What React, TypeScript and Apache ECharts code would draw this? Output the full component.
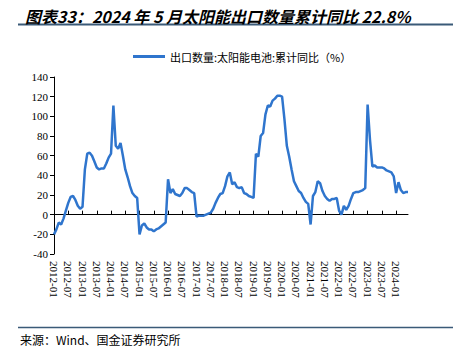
import React, { useEffect, useRef } from "react";
import * as echarts from "echarts";

const titleText = "图表33：2024 年 5 月太阳能出口数量累计同比 22.8%";
const sourceText = "来源：Wind、国金证券研究所";
const seriesName = "出口数量:太阳能电池:累计同比（%）";

const startYear = 2012;
const pointCount = 150;
const categories: string[] = [];
for (let i = 0; i < pointCount; i++) {
  const y = startYear + Math.floor(i / 12);
  const m = (i % 12) + 1;
  categories.push(`${y}-${m < 10 ? "0" + m : m}`);
}

const values: number[] = [
  -20, -15, -8, -10, -4, 4, 12, 18, 19, 15, 9, 6,
  8, 46, 62, 63, 60, 54, 48, 46, 47, 47, 52, 58,
  62, 111, 70, 67, 73, 60, 46, 38, 29, 22, 19, 17,
  -20, -11, -9, -13, -15, -15, -17, -15, -14, -12, -10, -8,
  36, 22, 26, 21, 20, 19, 22, 27, 27, 25, 23, 22,
  -2, -1, -1, -1, 0, 1, 2, 6, 12, 17, 21, 22,
  29, 39, 43, 31, 33, 28, 27, 28, 22, 21, 19, 18,
  17, 62, 59, 80, 83, 102, 111, 110, 116, 118, 121, 121,
  120, 97, 70, 59, 46, 34, 29, 24, 22, 17, 13, 11,
  -10, 19, 23, 34, 32, 24, 19, 16, 14, 16, 16, 17,
  4, 0, 9, 5, 9, 16, 22, 23, 23, 24, 25, 27,
  112, 76, 49, 50, 48, 48, 48, 47, 45, 44, 43, 39,
  22, 33, 25, 22, 23, 23,
];

const yMin = -40;
const yMax = 140;
const yStep = 20;

export default function App() {
  const ref = useRef<HTMLDivElement>(null);
  useEffect(() => {
    if (!ref.current) return;
    const chart = echarts.init(ref.current, undefined, { renderer: "svg" });
    const serif = "'Liberation Serif', 'DejaVu Serif', serif";
    const cjk = "'Noto Sans CJK SC', sans-serif";
    chart.setOption({
      animation: false,
      backgroundColor: "#ffffff",
      title: {
        text: titleText,
        left: 20,
        top: 3,
        textStyle: {
          fontFamily: cjk,
          fontSize: 16,
          fontStyle: "italic",
          fontWeight: "bold",
          color: "#000000",
        },
      },
      graphic: [
        {
          type: "line",
          shape: { x1: 18, y1: 24.5, x2: 453, y2: 24.5 },
          style: { stroke: "#3a5a78", lineWidth: 2 },
        },
        {
          type: "line",
          shape: { x1: 18, y1: 327.5, x2: 453, y2: 327.5 },
          style: { stroke: "#3a5a78", lineWidth: 1.5 },
        },
        {
          type: "text",
          left: 20,
          top: 333,
          style: {
            text: sourceText,
            font: `12px ${cjk}`,
            fill: "#000000",
          },
        },
      ],
      legend: {
        data: [seriesName],
        left: 128,
        top: 46,
        icon: "rect",
        itemWidth: 32,
        itemHeight: 3,
        itemGap: 4,
        textStyle: { fontFamily: cjk, fontSize: 11, color: "#000000" },
      },
      grid: { left: 54, right: 45, top: 77, bottom: 98 },
      xAxis: [
        {
          type: "category",
          data: categories,
          boundaryGap: false,
          axisLine: { onZero: true, lineStyle: { color: "#000000", width: 1 } },
          axisTick: { inside: true, length: 4, interval: 5, lineStyle: { color: "#000000" } },
          axisLabel: { show: false },
          splitLine: { show: false },
        },
        {
          type: "category",
          data: categories,
          boundaryGap: false,
          position: "bottom",
          axisLine: { show: false, onZero: false },
          axisTick: { show: false },
          axisLabel: {
            interval: 5,
            rotate: -90,
            margin: 7,
            fontFamily: serif,
            fontSize: 11,
            color: "#000000",
          },
          splitLine: { show: false },
        },
      ],
      yAxis: {
        type: "value",
        min: yMin,
        max: yMax,
        interval: yStep,
        axisLine: { show: true, lineStyle: { color: "#000000", width: 1 } },
        axisTick: { show: true, length: 4, lineStyle: { color: "#000000" } },
        axisLabel: { fontFamily: serif, fontSize: 11, color: "#000000", margin: 6 },
        splitLine: { show: false },
      },
      series: [
        {
          name: seriesName,
          type: "line",
          xAxisIndex: 0,
          data: values,
          symbol: "none",
          lineStyle: { color: "#2f75cd", width: 2.5 },
          itemStyle: { color: "#2f75cd" },
        },
      ],
    });
    return () => chart.dispose();
  }, []);
  return (
    <div
      ref={ref}
      style={{ position: "fixed", left: 0, top: 0, width: 453, height: 352 }}
    />
  );
}
